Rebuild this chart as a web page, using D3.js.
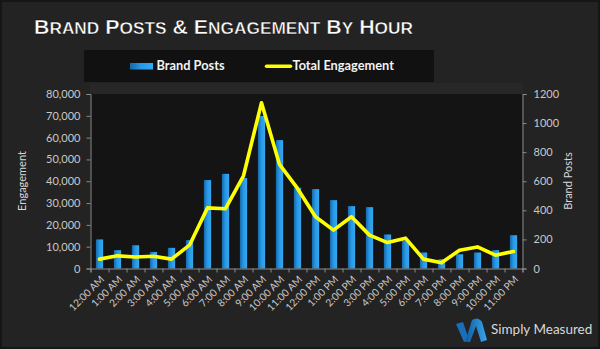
<!DOCTYPE html>
<html><head><meta charset="utf-8">
<script src="https://cdn.jsdelivr.net/npm/d3@7"></script>
<style>html,body{margin:0;padding:0;background:#222;}svg{display:block;}</style>
</head><body>
<script>
const hours = ["12:00 AM","1:00 AM","2:00 AM","3:00 AM","4:00 AM","5:00 AM","6:00 AM","7:00 AM","8:00 AM","9:00 AM","10:00 AM","11:00 AM","12:00 PM","1:00 PM","2:00 PM","3:00 PM","4:00 PM","5:00 PM","6:00 PM","7:00 PM","8:00 PM","9:00 PM","10:00 PM","11:00 PM"];
const brandPosts = [200,126,160,114,142,195,608,651,622,1049,883,555,546,470,429,422,234,192,110,64,98,110,126,229];
const engagement = [4300,5800,5300,5600,4300,10700,27800,27400,42500,76000,47700,36700,23700,17600,23700,15300,11900,13900,4300,2600,8400,9900,6100,7800];
const leftTicks = [0,10000,20000,30000,40000,50000,60000,70000,80000];
const rightTicks = [0,200,400,600,800,1000,1200];
const title = "Brand Posts & Engagement By Hour";

const W = 600, H = 349;
const svg = d3.select("body").append("svg").attr("width", W).attr("height", H);
const defs = svg.append("defs");
const g1 = defs.append("linearGradient").attr("id","barGrad").attr("x1","0").attr("x2","1").attr("y1","0").attr("y2","0");
g1.append("stop").attr("offset","0").attr("stop-color","#1668a8");
g1.append("stop").attr("offset","0.45").attr("stop-color","#2596e4");
g1.append("stop").attr("offset","1").attr("stop-color","#36a9f2");
const g2 = defs.append("linearGradient").attr("id","logoGrad").attr("x1","0").attr("x2","1").attr("y1","0").attr("y2","0");
g2.append("stop").attr("offset","0").attr("stop-color","#0d5aa0");
g2.append("stop").attr("offset","1").attr("stop-color","#3aa6ea");

svg.append("rect").attr("width",W).attr("height",H).attr("fill","#232323");
svg.append("rect").attr("x",1).attr("y",1).attr("width",W-2).attr("height",H-2).attr("fill","none").attr("stroke","#161616").attr("stroke-width",2);

// title (manual small caps)
const tt = svg.append("text").attr("x",34).attr("y",34)
  .attr("font-family","'Liberation Sans', Arial, sans-serif").attr("font-weight","bold")
  .attr("fill","#ffffff").attr("stroke","#000").attr("stroke-width",0.4)
  .attr("textLength",379).attr("lengthAdjust","spacingAndGlyphs");
title.split(" ").forEach((w,i)=>{
  const pre = i>0 ? " " : "";
  tt.append("tspan").attr("font-size",21).text(pre + w[0].toUpperCase());
  if (w.length>1) tt.append("tspan").attr("font-size",17).text(w.slice(1).toUpperCase());
});

// legend
svg.append("rect").attr("x",84).attr("y",50).attr("width",350).attr("height",32).attr("fill","#111111");
svg.append("rect").attr("x",130).attr("y",63).attr("width",23).attr("height",6.5).attr("fill","url(#barGrad)");
svg.append("text").attr("x",156.5).attr("y",70).text("Brand Posts").attr("fill","#f2f2f2")
  .attr("font-family","Lato, sans-serif").attr("font-size",12.8).attr("font-weight","bold");
svg.append("line").attr("x1",266.5).attr("x2",290.5).attr("y1",66.3).attr("y2",66.3).attr("stroke","#ffff00").attr("stroke-width",3.5).attr("stroke-linecap","round");
svg.append("text").attr("x",292.5).attr("y",70).text("Total Engagement").attr("fill","#f2f2f2")
  .attr("font-family","Lato, sans-serif").attr("font-size",12.8).attr("font-weight","bold");

// band above plot
svg.append("rect").attr("x",90).attr("y",83).attr("width",433).attr("height",11).attr("fill","#272727");

const pLeft = 90.5, pRight = 522.5, pTop = 94, pBottom = 268.5;
svg.append("rect").attr("x",pLeft).attr("y",pTop).attr("width",pRight-pLeft).attr("height",pBottom-pTop).attr("fill","#141414");

const x = d3.scaleBand().domain(hours).range([pLeft,pRight]).paddingInner(0.6).paddingOuter(0.3);
const yL = d3.scaleLinear().domain([0,80000]).range([pBottom,pTop]);
const yR = d3.scaleLinear().domain([0,1200]).range([pBottom,pTop]);

// bars
svg.append("g").selectAll("rect").data(hours).join("rect")
  .attr("x",d=>x(d)).attr("width",x.bandwidth())
  .attr("y",(d,i)=>yR(brandPosts[i])).attr("height",(d,i)=>pBottom-yR(brandPosts[i]))
  .attr("fill","url(#barGrad)");

// line
const line = d3.line().x((d,i)=>x(hours[i])+x.bandwidth()/2).y(d=>yL(d));
svg.append("path").datum(engagement).attr("d",line).attr("fill","none")
  .attr("stroke","#ffff00").attr("stroke-width",3.6).attr("stroke-linejoin","round").attr("stroke-linecap","round");

const tickFont = "Lato, sans-serif";
const axL = svg.append("g").attr("transform",`translate(${pLeft},0)`)
  .call(d3.axisLeft(yL).tickValues(leftTicks).tickFormat(d3.format(",")).tickSize(4).tickPadding(6));
const axR = svg.append("g").attr("transform",`translate(${pRight},0)`)
  .call(d3.axisRight(yR).tickValues(rightTicks).tickFormat(d3.format("d")).tickSize(4).tickPadding(7));
const xb = d3.scaleLinear().domain([0,hours.length]).range([pLeft,pRight]);
const axX = svg.append("g").attr("transform",`translate(0,${pBottom})`)
  .call(d3.axisBottom(xb).tickValues(d3.range(hours.length+1)).tickFormat("").tickSize(4));
axX.append("g").selectAll("text").data(hours).join("text")
  .attr("transform",d=>`translate(${x(d)+x.bandwidth()/2+3},${9}) rotate(-45)`)
  .attr("text-anchor","end").attr("dy","0.35em").text(d=>d)
  .attr("fill","#c8c8c8").attr("font-family",tickFont).attr("font-size",10.2);

[axL,axR,axX].forEach(a=>{
  a.select(".domain").attr("stroke","#8a8a8a");
  a.selectAll(".tick line").attr("stroke","#8a8a8a");
  a.selectAll(".tick text").attr("fill","#c8c8c8").attr("font-family",tickFont).attr("font-size",11);
});

// axis titles
svg.append("text").attr("transform","translate(26,181) rotate(-90)").attr("text-anchor","middle")
  .text("Engagement").attr("fill","#d8d8d8").attr("font-family",tickFont).attr("font-size",11);
svg.append("text").attr("transform","translate(572,181) rotate(-90)").attr("text-anchor","middle")
  .text("Brand Posts").attr("fill","#d8d8d8").attr("font-family",tickFont).attr("font-size",11);

// logo
const logo = svg.append("g").attr("transform","translate(456,318)");
logo.append("path").attr("d","M0,6 L7,4 L13,22 L8,24 Z").attr("fill","#1a6fb8");
logo.append("path").attr("d","M9,24 L16,2 Q22,-2 26,4 L31,22 L25,24 L20,8 L14,24 Z").attr("fill","url(#logoGrad)");
svg.append("text").attr("x",491).attr("y",334).text("Simply Measured").attr("fill","#d8d8d8")
  .attr("font-family",tickFont).attr("font-size",13.5);
</script>
</body></html>
